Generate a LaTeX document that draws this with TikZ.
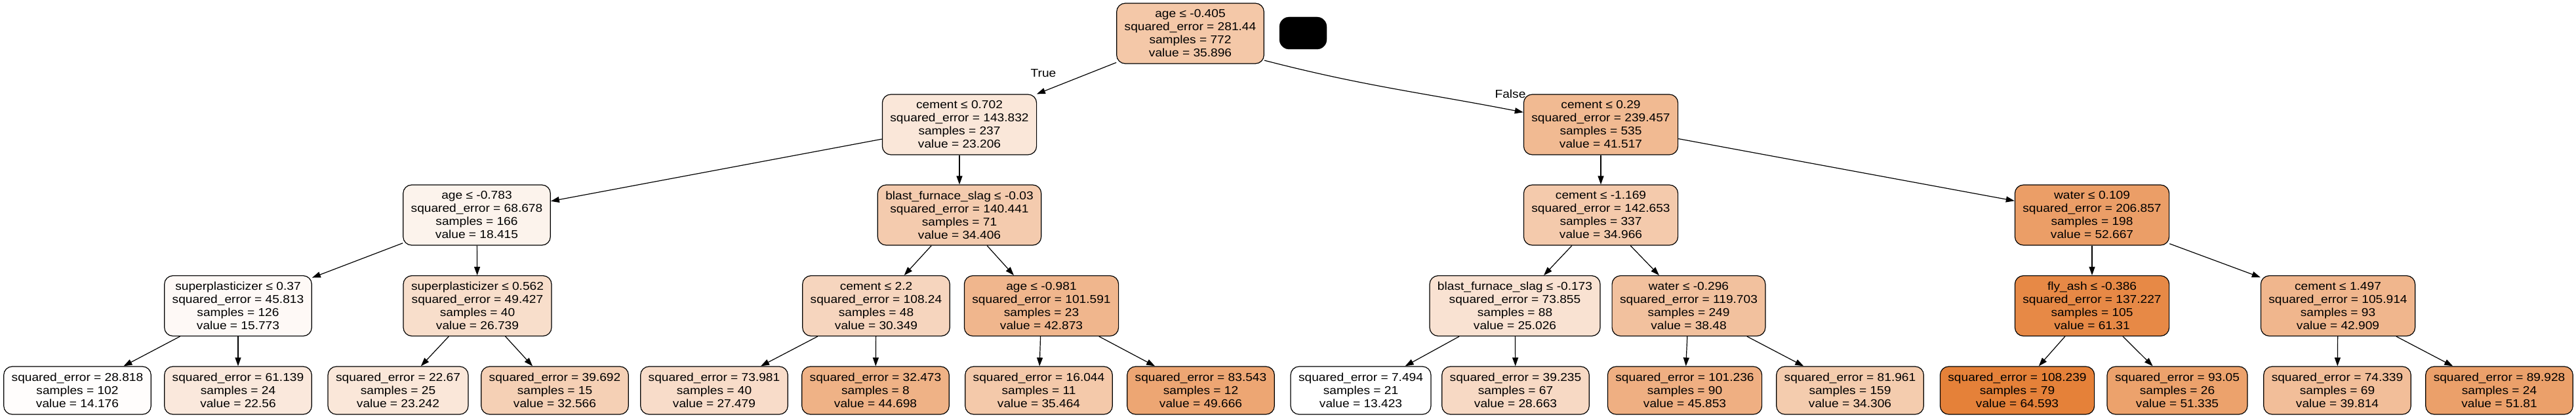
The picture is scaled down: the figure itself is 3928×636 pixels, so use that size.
\documentclass[tikz,border=0pt]{standalone}
\usepackage{fontspec}
\setmainfont{Liberation Sans}[FakeStretch=1.1]
\usetikzlibrary{arrows.meta}
\definecolor{skor}{RGB}{229,129,57}
\newcommand\tnfont{\fontsize{17.4}{20}\selectfont}
\tikzset{
  tn/.style={draw=black, line width=1.2pt, rounded corners=13pt, align=center,
    font=\tnfont, inner xsep=12pt, inner ysep=3pt, minimum height=92pt},
  lf/.style={tn, minimum height=73pt},
  ed/.style={-{Triangle[length=13pt,width=9pt]}, line width=1.2pt, draw=black},
  lbl/.style={font=\tnfont, inner sep=0pt}
}
\begin{document}
\begin{tikzpicture}[x=1pt,y=-1pt]
\useasboundingbox (0,0) rectangle (3928,636);
% level 0
\node[tn, fill=skor!43.92!white] (root) at (1815,51) {age ≤ -0.405\\squared\_error = 281.44\\samples = 772\\value = 35.896};
\node[fill=black, draw=black, rounded corners=15pt, minimum width=72pt, minimum height=49pt, inner sep=0pt] (blk) at (1987,50.5) {};
% level 1
\node[tn, fill=skor!19.12!white] (l1a) at (1463,190) {cement ≤ 0.702\\squared\_error = 143.832\\samples = 237\\value = 23.206};
\node[tn, fill=skor!54.90!white] (l1b) at (2441,190) {cement ≤ 0.29\\squared\_error = 239.457\\samples = 535\\value = 41.517};
% level 2
\node[tn, fill=skor!9.76!white] (l2a) at (727,328) {age ≤ -0.783\\squared\_error = 68.678\\samples = 166\\value = 18.415};
\node[tn, fill=skor!41.01!white] (l2b) at (1463,328) {blast\_furnace\_slag ≤ -0.03\\squared\_error = 140.441\\samples = 71\\value = 34.406};
\node[tn, fill=skor!42.10!white] (l2c) at (2441,328) {cement ≤ -1.169\\squared\_error = 142.653\\samples = 337\\value = 34.966};
\node[tn, fill=skor!76.69!white] (l2d) at (3190,328) {water ≤ 0.109\\squared\_error = 206.857\\samples = 198\\value = 52.667};
% level 3
\node[tn, fill=skor!4.59!white] (l3a) at (363,466.5) {superplasticizer ≤ 0.37\\squared\_error = 45.813\\samples = 126\\value = 15.773};
\node[tn, fill=skor!26.02!white] (l3b) at (728,466.5) {superplasticizer ≤ 0.562\\squared\_error = 49.427\\samples = 40\\value = 26.739};
\node[tn, fill=skor!33.08!white] (l3c) at (1336,466.5) {cement ≤ 2.2\\squared\_error = 108.24\\samples = 48\\value = 30.349};
\node[tn, fill=skor!57.55!white] (l3d) at (1588,466.5) {age ≤ -0.981\\squared\_error = 101.591\\samples = 23\\value = 42.873};
\node[tn, fill=skor!22.68!white] (l3e) at (2310,466.5) {blast\_furnace\_slag ≤ -0.173\\squared\_error = 73.855\\samples = 88\\value = 25.026};
\node[tn, fill=skor!48.97!white] (l3f) at (2575,466.5) {water ≤ -0.296\\squared\_error = 119.703\\samples = 249\\value = 38.48};
\node[tn, fill=skor!93.58!white] (l3g) at (3190,466.5) {fly\_ash ≤ -0.386\\squared\_error = 137.227\\samples = 105\\value = 61.31};
\node[tn, fill=skor!57.62!white] (l3h) at (3565,466.5) {cement ≤ 1.497\\squared\_error = 105.914\\samples = 93\\value = 42.909};
% leaves
\node[lf, fill=skor!1.47!white] (f1) at (118,595.5) {squared\_error = 28.818\\samples = 102\\value = 14.176};
\node[lf, fill=skor!17.86!white] (f2) at (363,595.5) {squared\_error = 61.139\\samples = 24\\value = 22.56};
\node[lf, fill=skor!19.19!white] (f3) at (607,595.5) {squared\_error = 22.67\\samples = 25\\value = 23.242};
\node[lf, fill=skor!37.41!white] (f4) at (846,595.5) {squared\_error = 39.692\\samples = 15\\value = 32.566};
\node[lf, fill=skor!27.47!white] (f5) at (1089,595.5) {squared\_error = 73.981\\samples = 40\\value = 27.479};
\node[lf, fill=skor!61.12!white] (f6) at (1335,595.5) {squared\_error = 32.473\\samples = 8\\value = 44.698};
\node[lf, fill=skor!43.07!white] (f7) at (1584,595.5) {squared\_error = 16.044\\samples = 11\\value = 35.464};
\node[lf, fill=skor!70.83!white] (f8) at (1831,595.5) {squared\_error = 83.543\\samples = 12\\value = 49.666};
\node[lf, fill=white] (f9) at (2075,595.5) {squared\_error = 7.494\\samples = 21\\value = 13.423};
\node[lf, fill=skor!29.78!white] (f10) at (2311,595.5) {squared\_error = 39.235\\samples = 67\\value = 28.663};
\node[lf, fill=skor!63.38!white] (f11) at (2569,595.5) {squared\_error = 101.236\\samples = 90\\value = 45.853};
\node[lf, fill=skor!40.81!white] (f12) at (2821,595.5) {squared\_error = 81.961\\samples = 159\\value = 34.306};
\node[lf, fill=skor] (f13) at (3076,595.5) {squared\_error = 108.239\\samples = 79\\value = 64.593};
\node[lf, fill=skor!74.09!white] (f14) at (3320,595.5) {squared\_error = 93.05\\samples = 26\\value = 51.335};
\node[lf, fill=skor!51.57!white] (f15) at (3564,595.5) {squared\_error = 74.339\\samples = 69\\value = 39.814};
\node[lf, fill=skor!75.02!white] (f16) at (3811,595.5) {squared\_error = 89.928\\samples = 24\\value = 51.81};
% edge labels
\node[lbl] (tlab) at (1591,112) {True};
\node[lbl] (flab) at (2303,143) {False};
% edges
\draw[ed] (root) -- (l1a);
\draw[ed] (root.-20) to[out=-14.5,in=169] (l1b.171);
\draw[ed] (l1a) -- (l2a);
\draw[ed] (l1a) -- (l2b);
\draw[ed] (l1b) -- (l2c);
\draw[ed] (l1b) -- (l2d);
\draw[ed] (l2a) -- (l3a);
\draw[ed] (l2a) -- (l3b);
\draw[ed] (l2b) -- (l3c);
\draw[ed] (l2b) -- (l3d);
\draw[ed] (l2c) -- (l3e);
\draw[ed] (l2c) -- (l3f);
\draw[ed] (l2d) -- (l3g);
\draw[ed] (l2d) -- (l3h);
\draw[ed] (l3a) -- (f1);
\draw[ed] (l3a) -- (f2);
\draw[ed] (l3b) -- (f3);
\draw[ed] (l3b) -- (f4);
\draw[ed] (l3c) -- (f5);
\draw[ed] (l3c) -- (f6);
\draw[ed] (l3d) -- (f7);
\draw[ed] (l3d) -- (f8);
\draw[ed] (l3e) -- (f9);
\draw[ed] (l3e) -- (f10);
\draw[ed] (l3f) -- (f11);
\draw[ed] (l3f) -- (f12);
\draw[ed] (l3g) -- (f13);
\draw[ed] (l3g) -- (f14);
\draw[ed] (l3h) -- (f15);
\draw[ed] (l3h) -- (f16);
\end{tikzpicture}
\end{document}
